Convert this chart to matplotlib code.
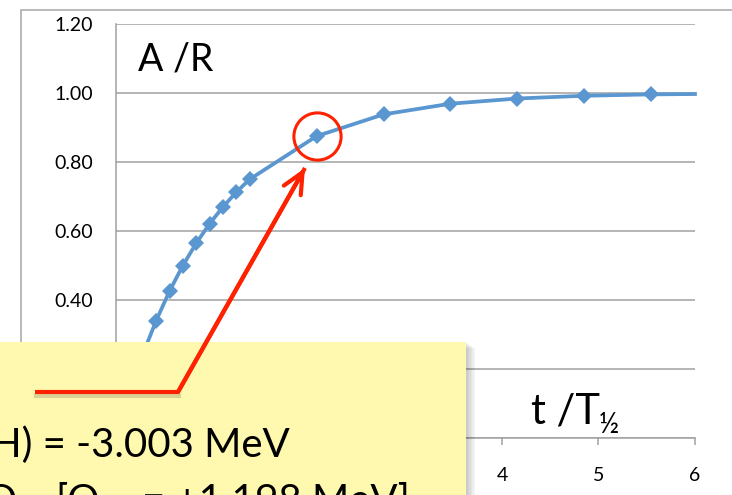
import matplotlib.pyplot as plt
from matplotlib.patches import Rectangle, FancyArrowPatch
from matplotlib.lines import Line2D

plt.rcParams['font.family'] = ['Lato', 'DejaVu Sans']

# time in units of the half-life, and activity over saturation rate
t_half = [0.0, 0.139, 0.277, 0.416, 0.555, 0.693, 0.832, 0.970, 1.109,
          1.248, 1.386, 2.079, 2.773, 3.466, 4.159, 4.852, 5.545]
a_over_r = [0.0, 0.129, 0.242, 0.340, 0.426, 0.500, 0.565, 0.621, 0.670,
            0.713, 0.750, 0.875, 0.938, 0.969, 0.984, 0.992, 0.996]
# curve runs on to the right edge of the plot
curve_end_t = 6.0
curve_end_a = 0.997

y_ticks = [0.0, 0.2, 0.4, 0.6, 0.8, 1.0, 1.2]
x_ticks = [0, 1, 2, 3, 4, 5, 6]
# labels hidden under the yellow note are left blank
y_labels = ['', '', '0.40', '0.60', '0.80', '1.00', '1.20']
x_labels = ['', '', '', '', '4', '5', '6']
circled = 11  # index of the point with the red circle

W, H = 732, 495
BLUE = '#5A96D0'
RED = '#FF2200'
GRID = '#A0A0A0'


def fx(px):
    return px / W


def fy(py):
    return 1 - py / H


fig = plt.figure(figsize=(W / 100, H / 100), dpi=100)

# outer chart frame
fig.add_artist(Rectangle((fx(21), fy(560)), fx(800), fy(10) - fy(560),
                         transform=fig.transFigure, fill=False,
                         edgecolor='#A6A6A6', lw=1.1, zorder=0.5))

ax = fig.add_axes([fx(116), fy(438), fx(695) - fx(116), fy(24) - fy(438)])
ax.set_xlim(0, 6)
ax.set_ylim(0, 1.2)
ax.set_xticks(x_ticks)
ax.set_xticklabels(x_labels)
ax.set_yticks(y_ticks)
ax.set_yticklabels(y_labels)
ax.grid(axis='y', color=GRID, lw=1.1)
ax.set_axisbelow(True)
for s in ['top', 'right']:
    ax.spines[s].set_visible(False)
for s in ['left', 'bottom']:
    ax.spines[s].set_color(GRID)
    ax.spines[s].set_linewidth(1.1)
ax.tick_params(axis='x', length=5, width=1.1, color=GRID, pad=16, labelsize=14)
ax.tick_params(axis='y', length=0, pad=16.5, labelsize=14)

ax.plot(t_half + [curve_end_t], a_over_r + [curve_end_a], color=BLUE, lw=2.7,
        zorder=3, clip_on=False)
ax.plot(t_half, a_over_r, 'D', color=BLUE, ms=8, mew=0, zorder=4)
ax.plot([t_half[circled]], [a_over_r[circled]], 'o', mfc='none', mec=RED,
        ms=34, mew=2.2, zorder=5)

fig.text(fx(138), fy(70), 'A /R', fontsize=27, ha='left', va='baseline')
fig.text(fx(600), fy(423), 't /T', fontsize=30, ha='right', va='baseline')
fig.text(fx(599), fy(433), '½', fontsize=20, ha='left', va='baseline')

# yellow note box with a soft shadow on the right
for i in range(1, 7):
    fig.add_artist(Rectangle((fx(-10), fy(520)), fx(466 + i * 1.5 + 10),
                             fy(342 + i) - fy(520), transform=fig.transFigure,
                             facecolor='black', alpha=0.035, lw=0, zorder=2))
fig.add_artist(Rectangle((fx(-10), fy(520)), fx(476), fy(342) - fy(520),
                         transform=fig.transFigure, facecolor='#FEF9AE',
                         lw=0, zorder=3))

fig.text(fx(290), fy(457), 'H) = -3.003 MeV', fontsize=29, ha='right',
         va='baseline', zorder=6)
fig.text(fx(16), fy(513), 'O', fontsize=29, ha='right', va='baseline',
         zorder=6)
fig.text(fx(100), fy(513), '[Q', fontsize=29, ha='right', va='baseline',
         zorder=6)
fig.text(fx(410), fy(513), '= +1.198 MeV]', fontsize=29, ha='right',
         va='baseline', zorder=6)

# red arrow from the box to the circled point
xs = [fx(35), fx(178), fx(305)]
ys = [fy(392), fy(392), fy(168)]
fig.add_artist(Line2D([x + fx(1) for x in xs[:2]], [y - (fy(0) - fy(4)) for y in ys[:2]],
                      transform=fig.transFigure, color='black', alpha=0.15,
                      lw=3, zorder=4))
fig.add_artist(Line2D(xs, ys, transform=fig.transFigure, color=RED, lw=3,
                      solid_joinstyle='miter', solid_capstyle='butt', zorder=5))
fig.add_artist(FancyArrowPatch((xs[1], ys[1]), (xs[2], ys[2]),
                               transform=fig.transFigure,
                               arrowstyle='->,head_length=1.5,head_width=0.7',
                               mutation_scale=10, color=RED, lw=3,
                               shrinkA=0, shrinkB=0, zorder=5))

fig.savefig('out.png', dpi=100)
